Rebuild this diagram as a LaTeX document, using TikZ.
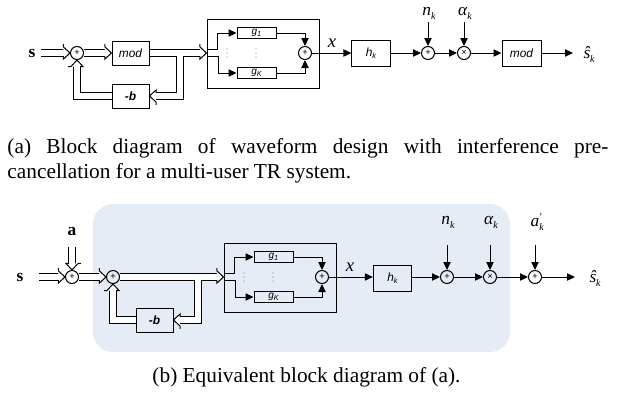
\documentclass[tikz,border=0pt]{standalone}
\usepackage{fontspec}
\setmainfont{Liberation Serif}
\setsansfont{Liberation Sans}
\usetikzlibrary{arrows.meta,decorations.markings}
\definecolor{bgblue}{RGB}{229,236,245}
\newcommand\mlab[2]{{\fontsize{13}{14}\selectfont\itshape #1\raisebox{-3pt}{\fontsize{7.5}{8}\selectfont #2}}}
\newcommand\gsub[2]{g\raisebox{-1.5pt}{\fontsize{5.5}{6}\selectfont #2}}
\begin{document}
\begin{tikzpicture}[x=0.75pt,y=-0.75pt,line width=0.75pt,
  blk/.style={draw, inner sep=0pt, font=\sffamily\itshape\fontsize{8.9}{10}\selectfont},
  bigblk/.style={blk, minimum width=27.75pt, minimum height=18pt},
  gblk/.style={draw, inner sep=0pt, minimum width=29.25pt, minimum height=8.25pt, font=\sffamily\itshape\fontsize{7.5}{8}\selectfont},
  hblk/.style={blk, minimum width=28.75pt, minimum height=19.5pt},
  sumc/.style={draw, circle, inner sep=0pt, minimum size=9.75pt, font=\sffamily\fontsize{7}{7}\selectfont},
  outer/.style={draw, inner sep=0pt, minimum width=84pt, minimum height=51.75pt},
  dblline/.style={double, double distance=4.5pt},
  dbl/.style={dblline, shorten >=4.2pt,
    postaction={decorate, decoration={markings,
      mark=at position 1 with {\fill[white] (-5pt,-4.6pt) -- (0,0) -- (-5pt,4.6pt) -- cycle;
                               \draw[line width=0.75pt, line join=miter] (-5pt,-2.4pt) -- (-5pt,-4.6pt) -- (0,0) -- (-5pt,4.6pt) -- (-5pt,2.4pt);}}}},
  sarr/.style={-{Triangle[length=6pt,width=5.5pt]}},
  lab/.style={inner sep=0pt},
  bvec/.style={inner sep=0pt, font=\fontsize{13}{14}\selectfont\bfseries},
  capt/.style={inner sep=0pt, font=\fontsize{16}{18.75}\selectfont},
]
\useasboundingbox (0,0) rectangle (622,404);

% ================= (a) =================
\node[bvec] (s1) at (32,53) {s};
\coordinate (s1e) at (41,53);
\node[sumc] (sa1) at (77,53) {+};
\node[bigblk] (mod1) at (130.5,53) {mod};
\node[bigblk, font=\sffamily\bfseries\itshape\fontsize{9}{10}\selectfont] (nb1) at (130.5,96) {-b};
\node[outer] (bb1) at (263,53.5) {};
\draw[dbl] (s1e) -- (sa1.west);
\draw[dbl] (sa1.east) -- (mod1.west);
\draw[dbl] (mod1.east) -- (bb1.west |- mod1.east);
\coordinate (br1) at (179.5,56.25);
\draw[dbl] (br1) |- (nb1.east);
\draw[dbl] (nb1.west) -| (sa1.south);

\node[gblk] (g1a) at (256.5,33) {\gsub{g}{1}};
\node[gblk] (gKa) at (256.5,73) {\gsub{g}{K}};
\coordinate (i1a) at (207,49.5); \coordinate (j1a) at (217,33);
\coordinate (i2a) at (207,56.5); \coordinate (j2a) at (218,73);
\draw[sarr] (i1a) -| (j1a) -- (g1a.west);
\draw[sarr] (i2a) -| (j2a) -- (gKa.west);
\node[sumc] (sb1) at (305,53) {+};
\draw[sarr] (g1a.east) -| (sb1.north);
\draw[sarr] (gKa.east) -| (sb1.south);
\foreach \xx in {227,256} {\foreach \yy in {49,53,57} {\fill[gray] (\xx,\yy) circle (0.45pt);}}

\node[hblk] (hk1) at (371,53) {h\raisebox{-1.5pt}{\fontsize{5.5}{6}\selectfont k}};
\node[lab] (x1) at (332,43) {\fontsize{14}{14}\selectfont\itshape x};
\draw[sarr] (sb1.east) -- (hk1.west);
\node[sumc] (sc1) at (428,53) {+};
\node[sumc] (sm1) at (464,53) {×};
\node[hblk, minimum width=29.25pt] (mod2) at (521.5,53) {mod};
\coordinate (o1) at (573,53);
\draw[sarr] (hk1.east) -- (sc1.west);
\draw[sarr] (sc1.east) -- (sm1.west);
\draw[sarr] (sm1.east) -- (mod2.west);
\draw[sarr] (mod2.east) -- (o1);
\node[lab, anchor=west] (sh1) at (583,54) {\mlab{ŝ}{k}};
\node[lab] (n1) at (429,13) {\mlab{n}{k}};
\node[lab] (a1) at (465,13) {\mlab{α}{k}};
\coordinate (n1s) at (428,22); \coordinate (a1s) at (464,22);
\draw[sarr] (n1s) -- (sc1.north);
\draw[sarr] (a1s) -- (sm1.north);

% captions (a)
\node[capt, anchor=base west] (ca1) at (7,153) {\makebox[450.75pt][s]{(a) Block diagram of waveform design with interference pre-}};
\node[capt, anchor=base west] (ca2) at (7,178) {cancellation for a multi-user TR system.};

% ================= (b) =================
\fill[bgblue, rounded corners=15pt] (93,204) rectangle (510,352);
\node[bvec] (s2) at (20,277) {s};
\coordinate (s2e) at (39,277);
\node[bvec] (av) at (72,232) {a};
\coordinate (ave) at (72,247);
\node[sumc] (sa2) at (72,277) {+};
\node[sumc] (sb2) at (113,277) {+};
\node[bigblk, font=\sffamily\bfseries\itshape\fontsize{9}{10}\selectfont] (nb2) at (154.5,320) {-b};
\node[outer] (bb2) at (280,277.5) {};
\draw[dbl] (s2e) -- (sa2.west);
\draw[dbl] (ave) -- (sa2.north);
\draw[dbl] (sa2.east) -- (sb2.west);
\draw[dbl] (sb2.east) -- (bb2.west |- sb2.east);
\coordinate (br2) at (197.5,280.25);
\draw[dbl] (br2) |- (nb2.east);
\draw[dbl] (nb2.west) -| (sb2.south);

\node[gblk] (g1b) at (273.5,257) {\gsub{g}{1}};
\node[gblk] (gKb) at (273.5,297) {\gsub{g}{K}};
\coordinate (i1b) at (224,273.5); \coordinate (j1b) at (234,257);
\coordinate (i2b) at (224,280.5); \coordinate (j2b) at (235,297);
\draw[sarr] (i1b) -| (j1b) -- (g1b.west);
\draw[sarr] (i2b) -| (j2b) -- (gKb.west);
\node[sumc] (sd2) at (322,277) {+};
\draw[sarr] (g1b.east) -| (sd2.north);
\draw[sarr] (gKb.east) -| (sd2.south);
\foreach \xx in {244,273} {\foreach \yy in {273,277,281} {\fill[gray] (\xx,\yy) circle (0.45pt);}}

\node[hblk] (hk2) at (392.5,278) {h\raisebox{-1.5pt}{\fontsize{5.5}{6}\selectfont k}};
\node[lab] (x2) at (350,267) {\fontsize{14}{14}\selectfont\itshape x};
\draw[sarr] (sd2.east) -- (hk2.west |- sd2.east);
\node[sumc] (sc2) at (447,277) {+};
\node[sumc] (sm2) at (490,277) {×};
\node[sumc] (se2) at (535,277) {+};
\coordinate (o2) at (575,277);
\draw[sarr] (hk2.east |- sc2.west) -- (sc2.west);
\draw[sarr] (sc2.east) -- (sm2.west);
\draw[sarr] (sm2.east) -- (se2.west);
\draw[sarr] (se2.east) -- (o2);
\node[lab, anchor=west] (sh2) at (589,278) {\mlab{ŝ}{k}};
\node[lab] (n2) at (448,222) {\mlab{n}{k}};
\node[lab] (a2) at (491,222) {\mlab{α}{k}};
\node[lab] (ap2) at (536,222) {{\fontsize{13}{14}\selectfont\itshape a}\raisebox{-3pt}{\fontsize{7.5}{8}\selectfont\itshape k}\kern-3.5pt\raisebox{4pt}{\fontsize{8}{8}\selectfont\itshape ′}};
\coordinate (n2s) at (447,245); \coordinate (a2s) at (490,245); \coordinate (ap2s) at (535,245);
\draw[sarr] (n2s) -- (sc2.north);
\draw[sarr] (a2s) -- (sm2.north);
\draw[sarr] (ap2s) -- (se2.north);

\node[capt, anchor=base] (cb) at (306.5,382) {(b) Equivalent block diagram of (a).};
\end{tikzpicture}
\end{document}
